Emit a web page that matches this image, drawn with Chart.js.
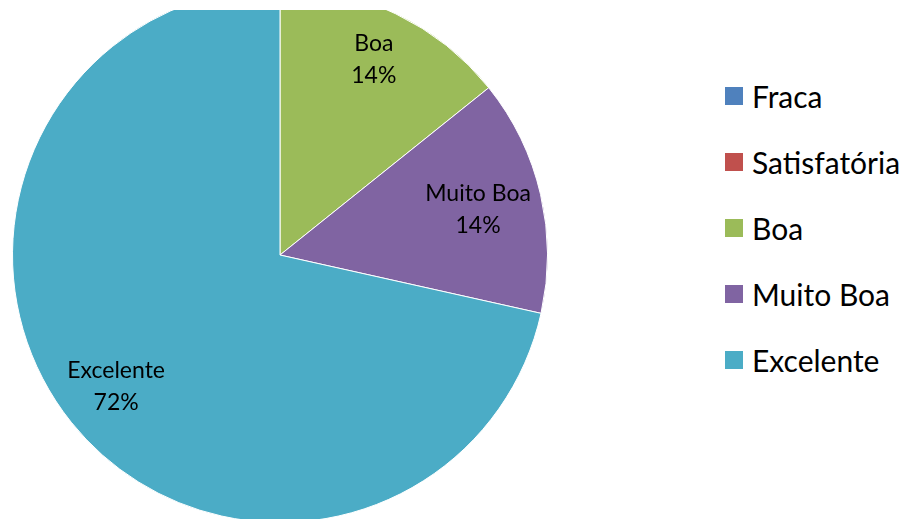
<!DOCTYPE html>
<html>
<head>
<meta charset="utf-8">
<script src="https://cdn.jsdelivr.net/npm/chart.js@4"></script>
<style>
  body { margin: 0; width: 902px; height: 519px; background: #fff; overflow: hidden; position: relative; font-family: Lato, "Open Sans", sans-serif; }
  /* plot area that cuts the top and bottom of the pie */
  #pieClip { position: absolute; left: 0; top: 10px; width: 560px; height: 509px; overflow: hidden; }
  #pieWrap { position: absolute; left: 0; top: -23px; width: 560px; height: 536px; }
  #legend { position: absolute; left: 725px; top: 63px; margin: 0; padding: 0; list-style: none; }
  #legend li { height: 66px; display: flex; align-items: center; font-size: 30px; color: #000; white-space: nowrap; }
  #legend .box { width: 18px; height: 18px; margin-right: 9px; flex: none; }
</style>
</head>
<body>
<div id="pieClip"><div id="pieWrap"><canvas id="pie"></canvas></div></div>
<ul id="legend"></ul>
<script>
const categories = ['Fraca', 'Satisfatória', 'Boa', 'Muito Boa', 'Excelente'];
const values = [0, 0, 14.25, 14.25, 71.5];
const colors = ['#4F81BD', '#C0504D', '#9BBB59', '#8064A2', '#4BACC6'];

// how far out each slice label sits, as a share of the radius
const labelRadius = [0.78, 0.78, 0.81, 0.76, 0.785];

// writes "name / nn%" inside each slice that has a value
const sliceLabels = {
  id: 'sliceLabels',
  afterDatasetsDraw(chart) {
    const ctx = chart.ctx;
    const meta = chart.getDatasetMeta(0);
    const data = chart.data.datasets[0].data;
    const total = data.reduce((a, b) => a + b, 0);
    ctx.save();
    ctx.fillStyle = '#000';
    ctx.textAlign = 'center';
    ctx.textBaseline = 'middle';
    ctx.font = '23px Lato, "Open Sans", sans-serif';
    meta.data.forEach((arc, i) => {
      if (!data[i]) return;
      const p = arc.getProps(['x', 'y', 'startAngle', 'endAngle', 'outerRadius'], true);
      const mid = (p.startAngle + p.endAngle) / 2;
      const r = p.outerRadius * labelRadius[i];
      const x = p.x + Math.cos(mid) * r;
      const y = p.y + Math.sin(mid) * r;
      ctx.fillText(chart.data.labels[i], x, y - 16);
      ctx.fillText(Math.round(data[i] / total * 100) + '%', x, y + 16);
    });
    ctx.restore();
  }
};

const chart = new Chart(document.getElementById('pie'), {
  type: 'pie',
  data: {
    labels: categories,
    datasets: [{
      data: values,
      backgroundColor: colors,
      borderColor: '#fff',
      borderWidth: 1
    }]
  },
  options: {
    responsive: true,
    maintainAspectRatio: false,
    animation: false,
    layout: { padding: { left: 12, right: 12, top: 0, bottom: 0 } },
    plugins: {
      legend: { display: false },
      tooltip: { enabled: false }
    }
  },
  plugins: [sliceLabels]
});

// html legend built from the chart's own legend items
const legendEl = document.getElementById('legend');
chart.options.plugins.legend.labels.generateLabels(chart).forEach(item => {
  const li = document.createElement('li');
  const box = document.createElement('span');
  box.className = 'box';
  box.style.background = item.fillStyle;
  li.appendChild(box);
  li.appendChild(document.createTextNode(item.text));
  legendEl.appendChild(li);
});
</script>
</body>
</html>
